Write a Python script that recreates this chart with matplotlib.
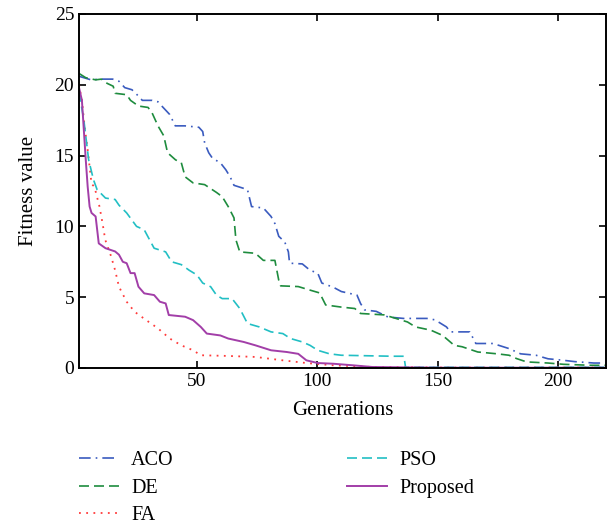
import matplotlib
matplotlib.use("Agg")
from matplotlib import pyplot as plt

# Convergence curves: (generation, best fitness) breakpoints per algorithm
aco_x = [1, 3, 6, 10, 15, 17.6, 20, 23, 25.7, 27.3, 31.4, 33.8, 35.4, 38.7, 41, 45, 50.8,
         52.4, 53.2, 54.9, 56.5, 59.7, 62, 63.8, 65.4, 71, 72.7, 77.6, 80.8, 82.4, 84, 86.5,
         88, 88.5, 93.8, 97, 100.2, 101.9, 106.7, 110, 116.5, 118, 119.7, 124.5, 129.4,
         135.9, 145.6, 148.9, 153.7, 155.3, 163.4, 165.9, 173, 179.7, 184.5, 190.9, 195.9,
         202, 207, 215, 220]
aco_y = [20.6, 20.5, 20.35, 20.4, 20.4, 20.25, 19.8, 19.65, 19.2, 18.9, 18.9, 18.8, 18.5,
         17.9, 17.1, 17.1, 17.0, 16.7, 15.9, 15.2, 14.8, 14.5, 14.0, 13.5, 12.9, 12.6, 11.4,
         11.3, 10.7, 10.2, 9.3, 8.9, 8.2, 7.4, 7.35, 6.9, 6.7, 6.0, 5.7, 5.4, 5.15, 4.55, 4.1,
         4.0, 3.6, 3.5, 3.5, 3.4, 2.9, 2.55, 2.55, 1.73, 1.73, 1.37, 1.0, 0.9, 0.65, 0.55,
         0.45, 0.35, 0.35]

de_x = [1, 3.8, 7.9, 10.3, 12.7, 15.2, 16, 20.8, 22.4, 25.7, 29.7, 31.4, 33.8, 36.2, 37.8,
        41.1, 43.5, 45.1, 48.4, 53.2, 58.1, 60.5, 63, 65.4, 66.2, 67.8, 74.3, 77.6, 82.4, 84,
        84.8, 92.1, 97, 101, 103.5, 110, 115.6, 118, 127.8, 132.7, 137.5, 140.8, 147.2, 152.1,
        156.9, 160.2, 166.7, 174.8, 179.7, 182.9, 187, 195.9, 202.3, 213.7, 220]
de_y = [20.8, 20.5, 20.35, 20.4, 20.1, 19.9, 19.4, 19.3, 18.9, 18.5, 18.4, 18.0, 17.1, 16.4,
        15.2, 14.7, 14.5, 13.5, 13.07, 12.95, 12.4, 12.1, 11.4, 10.6, 9.05, 8.2, 8.1, 7.6,
        7.6, 6.2, 5.8, 5.75, 5.5, 5.3, 4.45, 4.3, 4.2, 3.85, 3.75, 3.5, 3.25, 2.9, 2.67, 2.3,
        1.6, 1.5, 1.13, 1.0, 0.9, 0.66, 0.43, 0.35, 0.26, 0.19, 0.19]

fa_x = [1, 2.2, 3.3, 4.6, 6.2, 7.4, 9.5, 10.8, 11.9, 14.3, 16, 17.6, 20.8, 24.1, 28.9, 33.8,
        38.7, 43.5, 48.4, 51.6, 63, 74.3, 85.7, 95.5, 106.7, 122.9, 150, 220]
fa_y = [20.0, 18.9, 17.1, 15.4, 13.0, 12.8, 11.4, 10.2, 9.05, 7.9, 6.9, 5.74, 4.68, 3.97,
        3.38, 2.8, 2.08, 1.6, 1.25, 0.9, 0.85, 0.78, 0.54, 0.35, 0.19, 0.07, 0.03, 0.03]

pso_x = [1, 3, 5, 7, 8.5, 12, 16, 17.6, 20.8, 24.9, 28.1, 32.2, 37, 39.5, 43.5, 46.8,
         50, 52.4, 55.7, 58.1, 60.5, 64.6, 67.8, 71, 75.9, 80.8, 85.7, 88.9, 93.8, 97, 100.2,
         105.1, 110, 131, 136, 136.7, 220]
pso_y = [19.5, 17.5, 14.7, 13.3, 12.6, 12.0, 11.9, 11.5, 10.95, 10.0, 9.76, 8.46, 8.2, 7.5,
         7.3, 6.9, 6.57, 6.0, 5.74, 5.15, 4.9, 4.9, 4.2, 3.14, 2.9, 2.55, 2.43, 2.08, 1.84,
         1.6, 1.25, 1.0, 0.9, 0.83, 0.83, 0.05, 0.05]

prop_x = [1, 2.2, 3.8, 4.6, 5.4, 6.2, 7.9, 9.2, 12, 16, 17.6, 19.2, 20.8, 22.4, 24.1, 25.7,
          28.1, 32.2, 34.6, 37, 38.3, 45.1, 48.4, 51.6, 54.1, 59.7, 63, 69.4, 74.3, 80.8,
          87.3, 92.1, 95.5, 100.2, 106.7, 114.8, 122.9, 150, 220]
prop_y = [19.8, 18.9, 14.7, 12.8, 11.4, 10.95, 10.7, 8.8, 8.46, 8.23, 8.0, 7.5, 7.4, 6.7,
          6.7, 5.74, 5.27, 5.15, 4.68, 4.56, 3.74, 3.62, 3.38, 2.9, 2.43, 2.3, 2.08, 1.84,
          1.6, 1.25, 1.13, 1.0, 0.54, 0.35, 0.3, 0.19, 0.07, 0.02, 0.02]

x_ticks = [50, 100, 150, 200]
y_ticks = [0, 5, 10, 15, 20, 25]

plt.rcParams["font.family"] = ["Liberation Serif", "DejaVu Serif"]

fig = plt.figure(figsize=(6.14, 5.26), dpi=100)
ax = fig.add_axes([0.1287, 0.3004, 0.8583, 0.673])

ax.plot(aco_x, aco_y, color="#3a5bbf", lw=1.2, linestyle=(0, (7, 3, 1, 3)), label="ACO")
ax.plot(de_x, de_y, color="#1e8c3e", lw=1.2, linestyle=(0, (6, 3)), label="DE")
ax.plot(fa_x, fa_y, color="#ff3b3b", lw=1.3, linestyle=(0, (1, 3)), label="FA")
ax.plot(pso_x, pso_y, color="#22bfc4", lw=1.2, linestyle=(0, (6, 3)), label="PSO")
ax.plot(prop_x, prop_y, color="#a23ea8", lw=1.4, label="Proposed")

ax.set_xlim(1, 220)
ax.set_ylim(0, 25)
ax.set_xticks(x_ticks)
ax.set_yticks(y_ticks)
ax.tick_params(direction="in", length=5, width=1.2, top=True, right=True, labelsize=14)
for s in ax.spines.values():
    s.set_linewidth(1.4)
ax.set_xlabel("Generations", fontsize=15, labelpad=8)
ax.set_ylabel("Fitness value", fontsize=15, labelpad=12)

# Legend underneath the axes, two columns, no frame
fig.legend(loc="upper left", bbox_to_anchor=(0.115, 0.158), ncol=2, frameon=False,
           fontsize=14.5, handlelength=2.0, handletextpad=0.6, columnspacing=8.6,
           labelspacing=0.42, borderaxespad=0)

fig.savefig("out.png", dpi=100)
